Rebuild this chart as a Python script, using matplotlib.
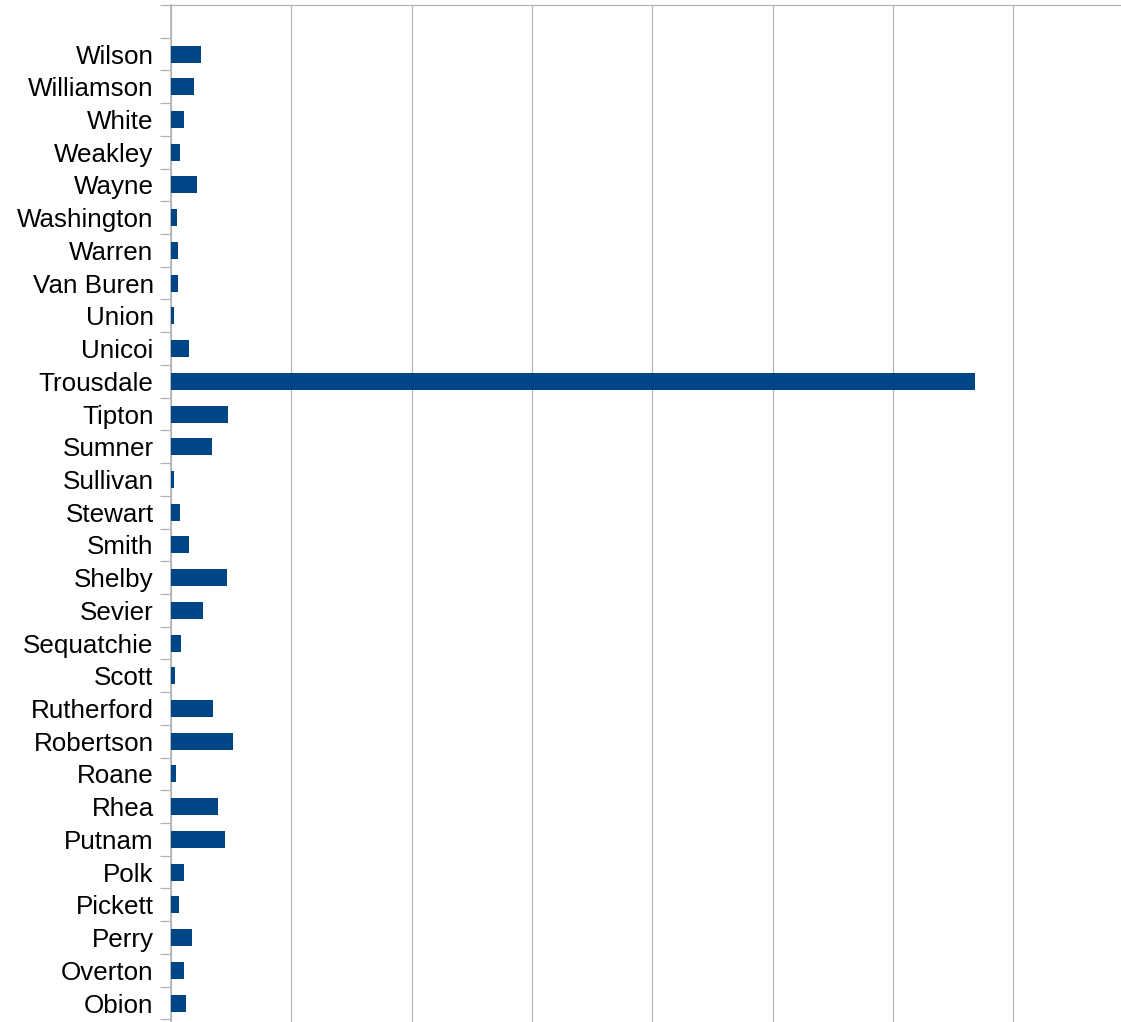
import matplotlib
matplotlib.use('Agg')
import matplotlib.pyplot as plt
import numpy as np

# data, first category at the bottom (alphabetical)
counties = ['Obion', 'Overton', 'Perry', 'Pickett', 'Polk', 'Putnam', 'Rhea',
            'Roane', 'Robertson', 'Rutherford', 'Scott', 'Sequatchie', 'Sevier',
            'Shelby', 'Smith', 'Stewart', 'Sullivan', 'Sumner', 'Tipton',
            'Trousdale', 'Unicoi', 'Union', 'Van Buren', 'Warren', 'Washington',
            'Wayne', 'Weakley', 'White', 'Williamson', 'Wilson']
values = [1.25, 1.1, 1.75, 0.65, 1.1, 4.5, 3.9,
          0.4, 5.15, 3.5, 0.35, 0.85, 2.65,
          4.65, 1.5, 0.75, 0.25, 3.4, 4.75,
          66.8, 1.5, 0.25, 0.6, 0.6, 0.5,
          2.15, 0.75, 1.1, 1.9, 2.5]
grid_ticks = [0, 10, 20, 30, 40, 50, 60, 70]

W, H = 1121, 1022
fig = plt.figure(figsize=(W / 100, H / 100), dpi=100)
ax = fig.add_axes([171 / W, 0, 1 - 171 / W, 1 - 5 / H])

y = np.arange(len(counties))
ax.barh(y, values, height=0.52, color='#004586', zorder=3)

ax.set_xlim(0, 950 / 12.03)
ax.set_ylim(-0.58, len(counties) + 0.5)

ax.set_xticks(grid_ticks)
ax.tick_params(axis='x', length=0, labelbottom=False)
ax.grid(axis='x', color='#b3b3b3', linewidth=0.8, zorder=0)

ax.set_yticks(y)
ax.set_yticklabels(counties, fontsize=18.7, family='Liberation Sans')
ax.set_yticks(np.arange(-0.5, len(counties) + 0.6, 1.0), minor=True)
ax.tick_params(axis='y', which='major', length=0, pad=12.5)
ax.tick_params(axis='y', which='minor', length=8, width=0.9, color='#b3b3b3')

for s in ['right', 'bottom']:
    ax.spines[s].set_visible(False)
ax.spines['left'].set_color('#b3b3b3')
ax.spines['left'].set_linewidth(1.2)
ax.spines['top'].set_color('#b3b3b3')
ax.spines['top'].set_linewidth(0.9)

fig.savefig('out.png', dpi=100, facecolor='white')
